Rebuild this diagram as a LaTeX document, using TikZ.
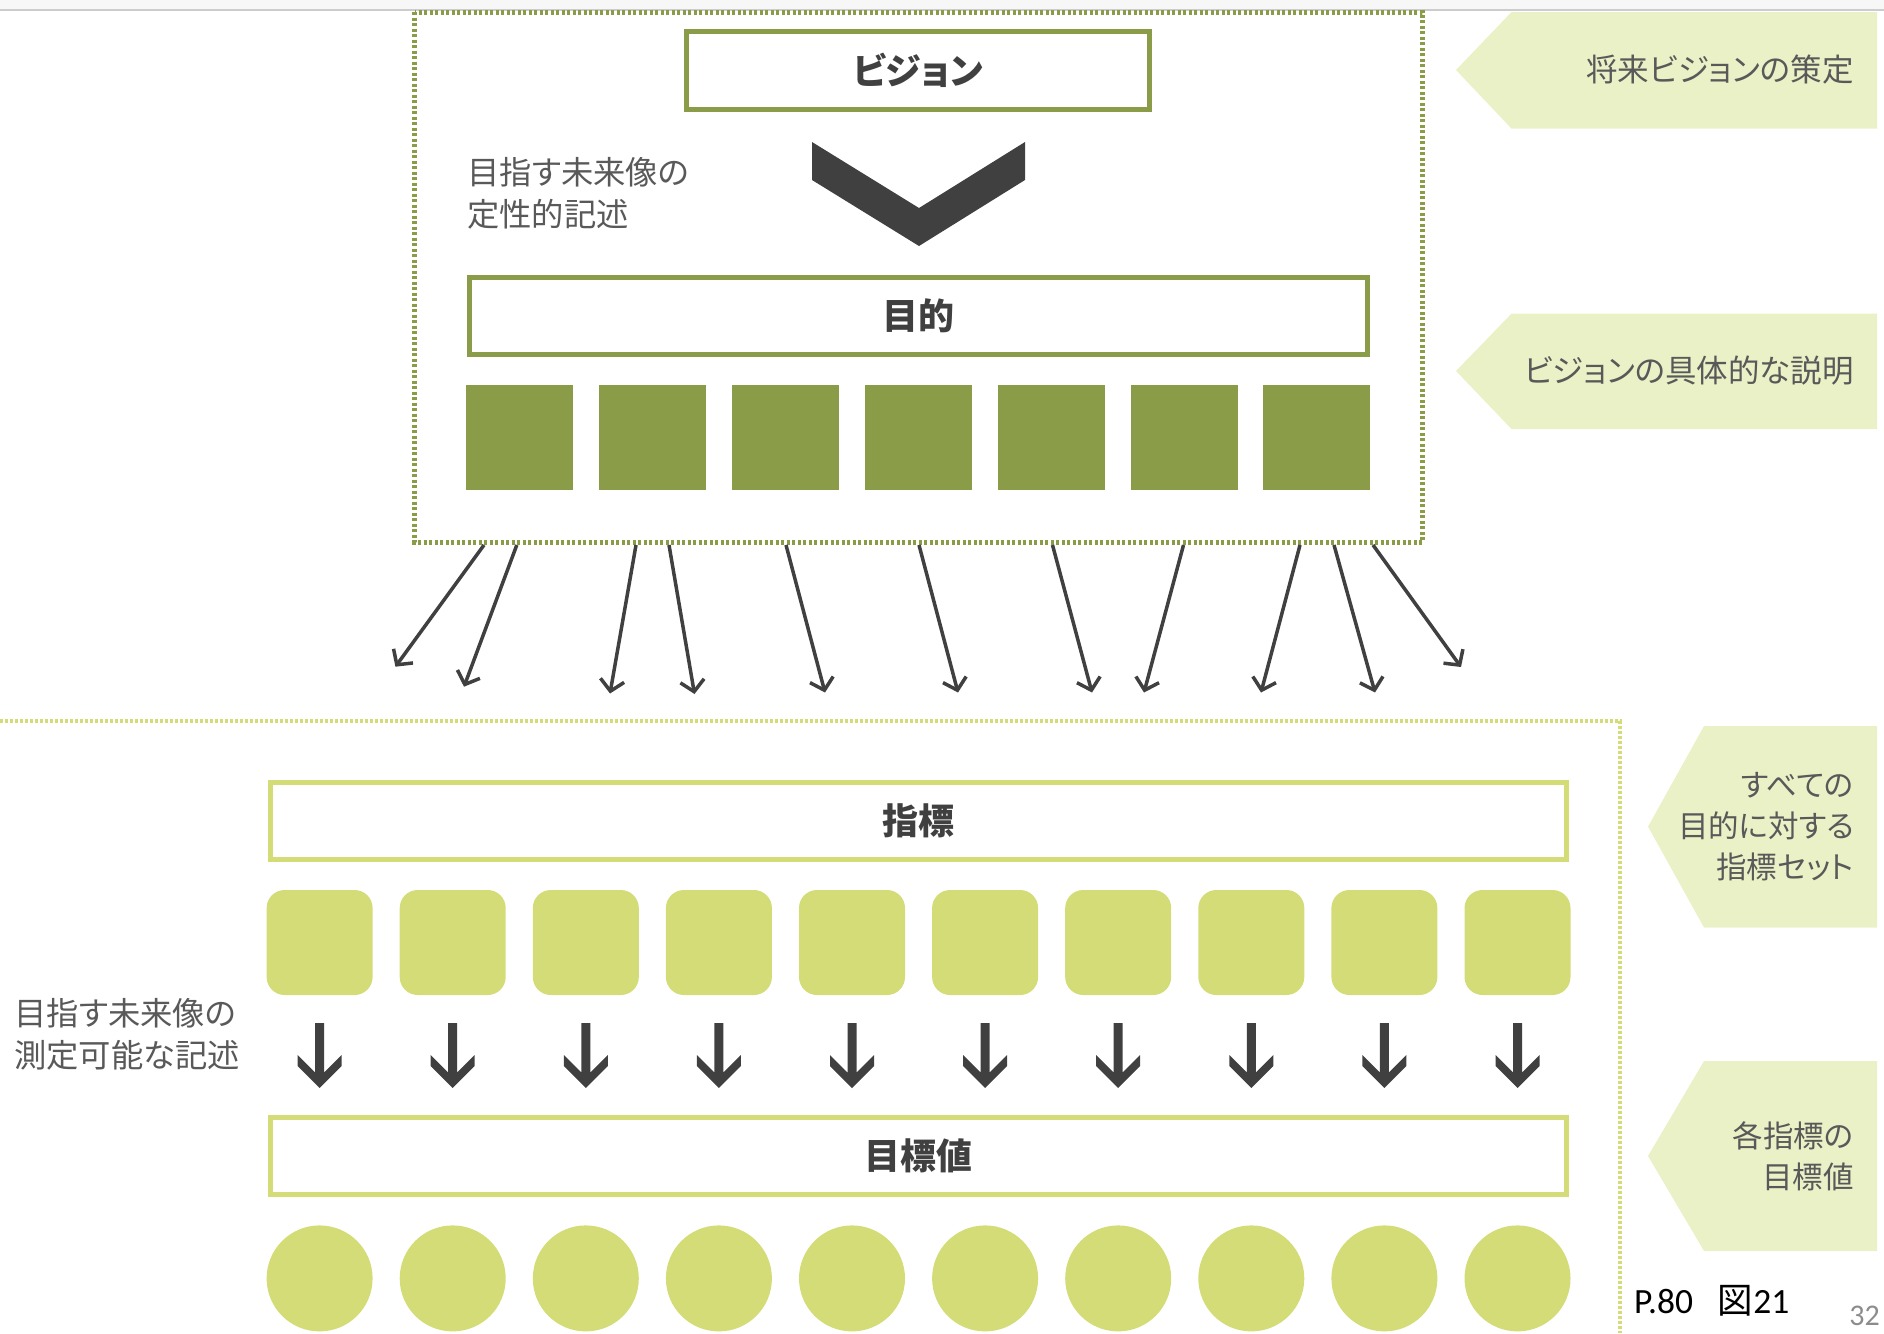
\documentclass[tikz,border=0pt]{standalone}
\usepackage{fontspec}
\setmainfont{Noto Sans CJK JP}[RawFeature=+palt]
\newfontfamily\carl{Carlito}
\usetikzlibrary{arrows.meta}
\definecolor{olive}{HTML}{8A9C48}
\definecolor{lgreen}{HTML}{D3DC76}
\definecolor{lblfill}{HTML}{EBF1C6}
\definecolor{darkg}{HTML}{404040}
\definecolor{txtgray}{HTML}{595959}
\begin{document}
\begin{tikzpicture}[x=1pt,y=-1pt,
  topbox/.style={draw=olive, line width=5pt, fill=white, inner sep=0pt, text=darkg,
    font=\fontsize{36}{40}\selectfont\bfseries},
  lowbox/.style={draw=lgreen, line width=5pt, fill=white, inner sep=0pt, text=darkg,
    font=\fontsize{36}{40}\selectfont\bfseries},
  olivesq/.style={fill=olive, minimum width=107pt, minimum height=105.5pt, inner sep=0pt},
  indsq/.style={fill=lgreen, rounded corners=18pt, minimum width=106pt, minimum height=105pt, inner sep=0pt},
  valcirc/.style={circle, fill=lgreen, minimum size=106pt, inner sep=0pt},
  thinarr/.style={draw=darkg, line width=3.5pt, -{Straight Barb[length=11pt,width=24pt,line width=3.5pt]}},
  lbltext/.style={anchor=east, align=right, inner sep=0pt, text=txtgray,
    font=\fontsize{31.5}{41}\selectfont},
  lbltextb/.style={anchor=east, align=right, inner sep=0pt, text=txtgray,
    font=\fontsize{30.5}{41}\selectfont},
  desctext/.style={anchor=west, align=left, inner sep=0pt, text=txtgray,
    font=\fontsize{32.3}{42}\selectfont},
]
\useasboundingbox (0,0) rectangle (1884,1333);
% top bar
\fill[black!3] (0,0) rectangle (1884,9);
\draw[black!20, line width=2pt] (0,9.5) -- (1884,9.5);

% right labels
\fill[lblfill] (1456,70) -- (1511.5,12) -- (1877,12) -- (1877,128.6) -- (1511.5,128.6) -- cycle;
\node[lbltext] (l1) at (1854,70) {将来ビジョンの策定};
\fill[lblfill] (1456,371) -- (1511.5,313.6) -- (1877,313.6) -- (1877,429) -- (1511.5,429) -- cycle;
\node[lbltext] (l2) at (1854,371) {ビジョンの具体的な説明};
\fill[lblfill] (1648,826.6) -- (1704,726) -- (1877,726) -- (1877,927.5) -- (1704,927.5) -- cycle;
\node[lbltextb] (l3) at (1854,826.6) {すべての\\目的に対する\\指標セット};
\fill[lblfill] (1648,1156) -- (1704,1061) -- (1877,1061) -- (1877,1251) -- (1704,1251) -- cycle;
\node[lbltextb] (l4) at (1854,1156.5) {各指標の\\目標値};

% top dotted frame
\draw[olive, line width=5pt, dash pattern=on 3pt off 2.5pt] (414.5,12) rectangle (1422.6,542);

% vision box
\node[topbox, minimum width=463.6pt, minimum height=78pt] (vision) at (917.9,70.25) {ビジョン};
% chevron
\fill[darkg] (812,142) -- (812,180) -- (919,246) -- (1025,180) -- (1025,142) -- (919,208) -- cycle;
\node[desctext] (d1) at (467,193) {目指す未来像の\\定性的記述};

% purpose box
\node[topbox, minimum width=897.3pt, minimum height=77pt] (purpose) at (918.5,316) {目的};
\foreach \i in {0,...,6} {
  \node[olivesq] (p\i) at ({519.5+\i*132.9},437.3) {};
}

% thin arrows
\foreach \sx/\ex/\ey [count=\n] in {484/395.4/666.7, 516.8/464/686.7, 636/610/693.5, 669/694.5/694, 786/825/692.5, 919/958/692.5, 1052.5/1092/692.5, 1183.5/1144/692.5, 1300/1261/692.5, 1334/1375/692.5, 1373/1461/667} {
  \coordinate (as\n) at (\sx,545);
  \coordinate (ae\n) at (\ex,\ey);
  \draw[thinarr] (as\n) -- (ae\n);
}

% bottom dotted frame
\draw[lgreen, line width=4pt, dash pattern=on 2.5pt off 2.5pt] (0,721) -- (1620,721) -- (1620,1333);

% indicator box
\node[lowbox, minimum width=1296pt, minimum height=76.5pt] (ind) at (918.5,820.75) {指標};
\foreach \i in {0,...,9} {
  \node[indsq] (k\i) at ({319.6+\i*133.1},942.5) {};
  \pgfmathsetmacro\cx{319.6+\i*133.1}
  \fill[darkg] ({\cx-22},1055) -- ({\cx-22},1066) -- (\cx,1088) -- ({\cx+22},1066) -- ({\cx+22},1055)
    -- ({\cx+4.5},1072.5) -- ({\cx+4.5},1023) -- ({\cx-4.5},1023) -- ({\cx-4.5},1072.5) -- cycle;
  \node[valcirc] (t\i) at ({319.6+\i*133.1},1278.4) {};
}
\node[desctext] (d2) at (14,1034) {目指す未来像の\\測定可能な記述};

% target value box
\node[lowbox, minimum width=1296pt, minimum height=77pt] (target) at (918.5,1156) {目標値};

% page refs
\node[anchor=west, inner sep=0pt, text=black, font=\fontsize{35.5}{40}\selectfont] (pg) at (1634,1301) {{\carl P.80}\hspace{0.7em}図{\carl 21}};
\node[anchor=east, inner sep=0pt, text=black!45, font=\fontsize{30}{34}\selectfont\carl] (pno) at (1880,1316) {32};
\end{tikzpicture}
\end{document}
